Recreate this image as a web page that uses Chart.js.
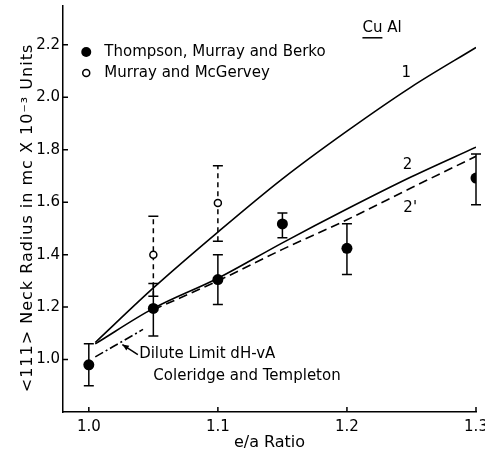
<!DOCTYPE html>
<html>
<head>
<meta charset="utf-8">
<script src="https://cdn.jsdelivr.net/npm/chart.js@4.4.1/dist/chart.umd.min.js"></script>
<style>
  html, body { margin: 0; padding: 0; background: #fff; }
  #wrap { width: 485px; height: 454px; }
</style>
</head>
<body>
<div id="wrap"><canvas id="chart" width="485" height="454"></canvas></div>
<script>
// Cu Al: <111> neck radius vs e/a ratio

const xTicks = [1.0, 1.1, 1.2, 1.3];
const yTicks = [1.0, 1.2, 1.4, 1.6, 1.8, 2.0, 2.2];

// Thompson, Murray and Berko (filled)
const tmbX = [1.0, 1.05, 1.1, 1.15, 1.2, 1.3];
const tmbY = [0.98, 1.195, 1.305, 1.517, 1.424, 1.692];
const tmbLow = [0.90, 1.09, 1.21, 1.464, 1.324, 1.59];
const tmbHigh = [1.06, 1.29, 1.40, 1.559, 1.518, 1.784];

// Murray and McGervey (open)
const mmX = [1.05, 1.1];
const mmY = [1.40, 1.597];
const mmLow = [1.241, 1.451];
const mmHigh = [1.546, 1.739];

// theory curves 1, 2, 2'
const curve1X = [1.005, 1.05, 1.1, 1.15, 1.2, 1.25, 1.3];
const curve1Y = [1.065, 1.273, 1.486, 1.689, 1.871, 2.04, 2.19];
const curve2X = [1.005, 1.05, 1.1, 1.15, 1.2, 1.25, 1.3];
const curve2Y = [1.06, 1.195, 1.31, 1.445, 1.574, 1.697, 1.81];
const curve2pX = [1.05, 1.1, 1.15, 1.2, 1.25, 1.3];
const curve2pY = [1.19, 1.30, 1.42, 1.533, 1.655, 1.775];

// dilute limit dH-vA (Coleridge and Templeton)
const diluteX = [1.005, 1.042];
const diluteY = [1.01, 1.115];

const FONT = "'DejaVu Sans', sans-serif";
const pts = (xs, ys) => xs.map((x, i) => ({ x: x, y: ys[i] }));

Chart.defaults.font.family = FONT;
Chart.defaults.color = '#000';

// error bars under the markers
const errorBars = {
  id: 'errorBars',
  beforeDatasetsDraw(chart) {
    const { ctx, scales: { x, y } } = chart;
    const groups = [
      { xs: mmX, lo: mmLow, hi: mmHigh, dash: [5, 4] },
      { xs: tmbX, lo: tmbLow, hi: tmbHigh, dash: [] }
    ];
    ctx.save();
    ctx.strokeStyle = '#000';
    ctx.lineWidth = 1.5;
    groups.forEach(g => {
      g.xs.forEach((xv, i) => {
        const px = x.getPixelForValue(xv);
        const p1 = y.getPixelForValue(g.lo[i]);
        const p2 = y.getPixelForValue(g.hi[i]);
        ctx.setLineDash(g.dash);
        ctx.beginPath();
        ctx.moveTo(px, p1);
        ctx.lineTo(px, p2);
        ctx.stroke();
        ctx.setLineDash([]);
        ctx.beginPath();
        ctx.moveTo(px - 5, p1); ctx.lineTo(px + 5, p1);
        ctx.moveTo(px - 5, p2); ctx.lineTo(px + 5, p2);
        ctx.stroke();
      });
    });
    ctx.restore();
  }
};

// inward tick marks, legend, labels
const extras = {
  id: 'extras',
  afterDraw(chart) {
    const { ctx, chartArea: a, scales: { x, y } } = chart;
    ctx.save();
    ctx.strokeStyle = '#000';
    ctx.fillStyle = '#000';
    ctx.lineWidth = 1.5;
    ctx.beginPath();
    xTicks.forEach(v => {
      const px = x.getPixelForValue(v);
      ctx.moveTo(px, a.bottom); ctx.lineTo(px, a.bottom - 5);
    });
    yTicks.forEach(v => {
      const py = y.getPixelForValue(v);
      ctx.moveTo(a.left, py); ctx.lineTo(a.left + 5, py);
    });
    ctx.stroke();

    // y title
    ctx.save();
    ctx.translate(28, 218);
    ctx.rotate(-Math.PI / 2);
    ctx.font = '16px ' + FONT;
    ctx.letterSpacing = '1px';
    ctx.textAlign = 'center';
    ctx.textBaseline = 'middle';
    ctx.fillText('<111> Neck Radius in mc X 10\u207B\u00B3 Units', 0, 0);
    ctx.restore();

    // legend
    const X = v => x.getPixelForValue(v);
    const Y = v => y.getPixelForValue(v);
    ctx.font = '15px ' + FONT;
    ctx.textBaseline = 'middle';
    ctx.textAlign = 'left';
    ctx.beginPath();
    ctx.arc(X(0.998), Y(2.173), 5, 0, Math.PI * 2);
    ctx.fill();
    ctx.fillText('Thompson, Murray and Berko', X(1.012), Y(2.173));
    ctx.beginPath();
    ctx.arc(X(0.998), Y(2.093), 3.5, 0, Math.PI * 2);
    ctx.stroke();
    ctx.fillText('Murray and McGervey', X(1.012), Y(2.093));

    // Cu Al
    ctx.fillText('Cu Al', X(1.212), Y(2.265));
    const cuW = ctx.measureText('Cu').width;
    ctx.lineWidth = 1.5;
    ctx.beginPath();
    ctx.moveTo(X(1.212), Y(2.265) + 10);
    ctx.lineTo(X(1.212) + cuW, Y(2.265) + 10);
    ctx.stroke();

    // curve labels
    ctx.font = '15px ' + FONT;
    ctx.textAlign = 'center';
    ctx.fillText('1', X(1.246), Y(2.093));
    ctx.fillText('2', X(1.247), Y(1.743));
    ctx.fillText("2'", X(1.249), Y(1.579));

    // dilute limit note + arrow
    ctx.textAlign = 'left';
    ctx.font = '15px ' + FONT;
    ctx.fillText('Dilute Limit dH-vA', X(1.039), Y(1.019));
    ctx.fillText('Coleridge and Templeton', X(1.050), Y(0.935));
    const tx = X(1.026), ty = Y(1.057), sx = X(1.038), sy = Y(1.019);
    ctx.lineWidth = 1.5;
    ctx.beginPath();
    ctx.moveTo(sx, sy); ctx.lineTo(tx, ty);
    ctx.stroke();
    const ang = Math.atan2(ty - sy, tx - sx);
    ctx.beginPath();
    ctx.moveTo(tx, ty);
    ctx.lineTo(tx - 7 * Math.cos(ang - 0.4), ty - 7 * Math.sin(ang - 0.4));
    ctx.lineTo(tx - 7 * Math.cos(ang + 0.4), ty - 7 * Math.sin(ang + 0.4));
    ctx.closePath();
    ctx.fill();
    ctx.restore();
  }
};

const lineStyle = { showLine: true, pointRadius: 0, borderColor: '#000', borderWidth: 1.6, cubicInterpolationMode: 'monotone', fill: false };

new Chart(document.getElementById('chart'), {
  type: 'scatter',
  data: {
    datasets: [
      Object.assign({ label: '1', data: pts(curve1X, curve1Y) }, lineStyle),
      Object.assign({ label: '2', data: pts(curve2X, curve2Y) }, lineStyle),
      Object.assign({ label: "2'", data: pts(curve2pX, curve2pY), borderDash: [9, 5] }, lineStyle),
      Object.assign({ label: 'Dilute Limit dH-vA', data: pts(diluteX, diluteY), borderDash: [9, 3, 2, 3] }, lineStyle),
      {
        label: 'Murray and McGervey', data: pts(mmX, mmY),
        pointRadius: 3.5, backgroundColor: '#fff', borderColor: '#000', borderWidth: 1.5
      },
      {
        label: 'Thompson, Murray and Berko', data: pts(tmbX, tmbY),
        pointRadius: 5.5, backgroundColor: '#000', borderColor: '#000', borderWidth: 0
      }
    ]
  },
  options: {
    responsive: false,
    animation: false,
    layout: { padding: { left: 0, right: 9, top: 5, bottom: 0 } },
    plugins: { legend: { display: false }, tooltip: { enabled: false } },
    scales: {
      x: {
        type: 'linear', min: 0.98, max: 1.3,
        afterBuildTicks: s => { s.ticks = xTicks.map(v => ({ value: v })); },
        afterFit: s => { s.height = 42; s.paddingRight = 0; s.paddingLeft = 0; },
        grid: { display: false, drawTicks: false },
        border: { display: true, color: '#000', width: 1.5 },
        ticks: { padding: 6, font: { size: 15 }, callback: v => v.toFixed(1), maxRotation: 0 },
        title: { display: true, text: 'e/a Ratio', font: { size: 16 }, padding: { top: 0, bottom: 2 } }
      },
      y: {
        type: 'linear', min: 0.8, max: 2.35,
        afterBuildTicks: s => { s.ticks = yTicks.map(v => ({ value: v })); },
        afterFit: s => { s.width = 63; s.paddingTop = 0; s.paddingBottom = 0; },
        grid: { display: false, drawTicks: false },
        border: { display: true, color: '#000', width: 1.5 },
        ticks: { padding: 3, font: { size: 15 }, callback: v => v.toFixed(1) }
      }
    }
  },
  plugins: [errorBars, extras]
});
</script>
</body>
</html>
